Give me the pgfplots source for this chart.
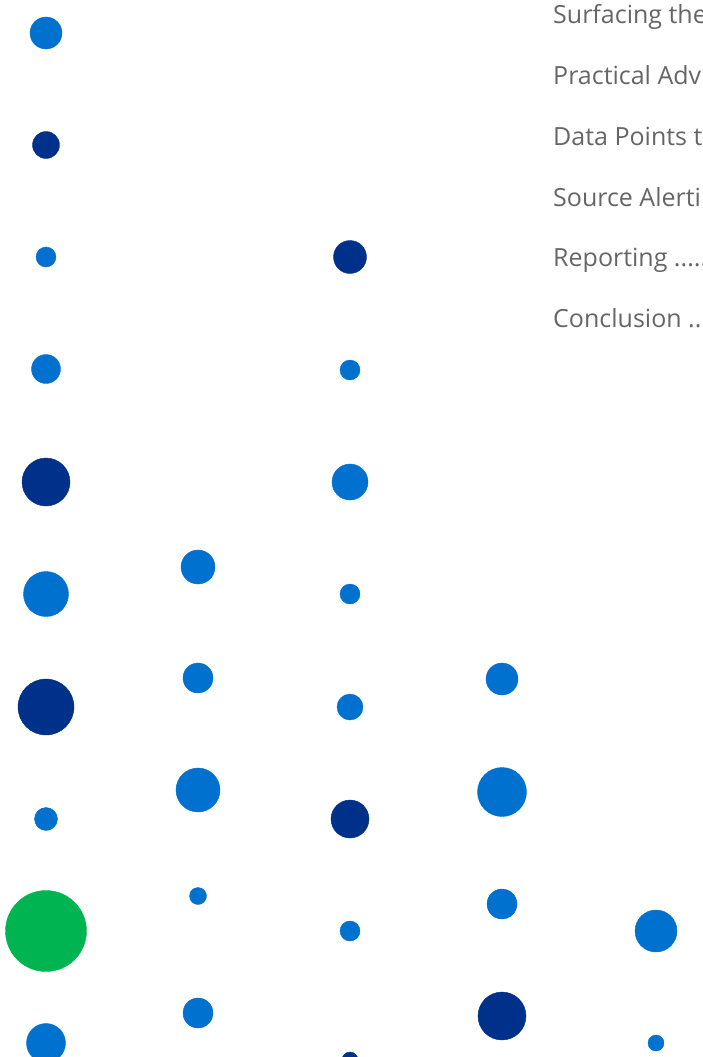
\documentclass[border=0pt]{standalone}
\usepackage{fontspec}
\setmainfont{Open Sans}
\usepackage{pgfplots}
\pgfplotsset{compat=1.18}
\definecolor{lb}{HTML}{0071CE}
\definecolor{db}{HTML}{00318A}
\definecolor{gr}{HTML}{00B451}
\definecolor{tx}{HTML}{666666}
\pgfplotsset{dot/.style={scatter, only marks, mark=*,
  scatter/use mapped color={draw=#1, fill=#1},
  visualization depends on={\thisrow{r} \as \perpointmarksize},
  scatter/@pre marker code/.append style={/tikz/mark size=\perpointmarksize pt, /tikz/line width=0.1pt}}}
\begin{document}
\begin{tikzpicture}
\useasboundingbox (0,0) rectangle (702pt,1057pt);
\clip (0,0) rectangle (702pt,1057pt);
\begin{axis}[
  at={(0,0)}, anchor=south west,
  width=702pt, height=1057pt, scale only axis,
  xmin=0, xmax=702, ymin=0, ymax=1057, y dir=reverse,
  hide axis, clip=false,
]
\addplot[dot=lb] table {
x y r
46 33 16
46 257 10
46 369 14.5
46 594 22.5
46 819 11.5
46 1043 19.5
198 567 17
198 678 15
198 790 22
198 896 8.5
198 1013 15
350 370 10
350 482 18
350 594 10
350 707 13
350 931 10
502 679 16
502 792 24.5
502 904 15
656 931 21
656 1043 8
};
\addplot[dot=db] table {
x y r
46 145 13.5
46 482 24
46 707 28
350 257 16.5
350 819 19
350 1060 8
502 1016 24
};
\addplot[dot=gr] table {
x y r
46 931 40.5
};
\end{axis}
\begin{scope}[every node/.style={anchor=base west, inner sep=0pt, text=tx, font=\fontsize{25}{30}\selectfont}]
\node at (553pt,1033pt) {Surfacing the};
\node at (553pt,972pt) {Practical Advice};
\node at (553pt,911pt) {Data Points to};
\node at (553pt,850pt) {Source Alerting};
\node at (553pt,790pt) {Reporting ........};
\node at (553pt,729pt) {Conclusion ........};
\end{scope}
\end{tikzpicture}
\end{document}
